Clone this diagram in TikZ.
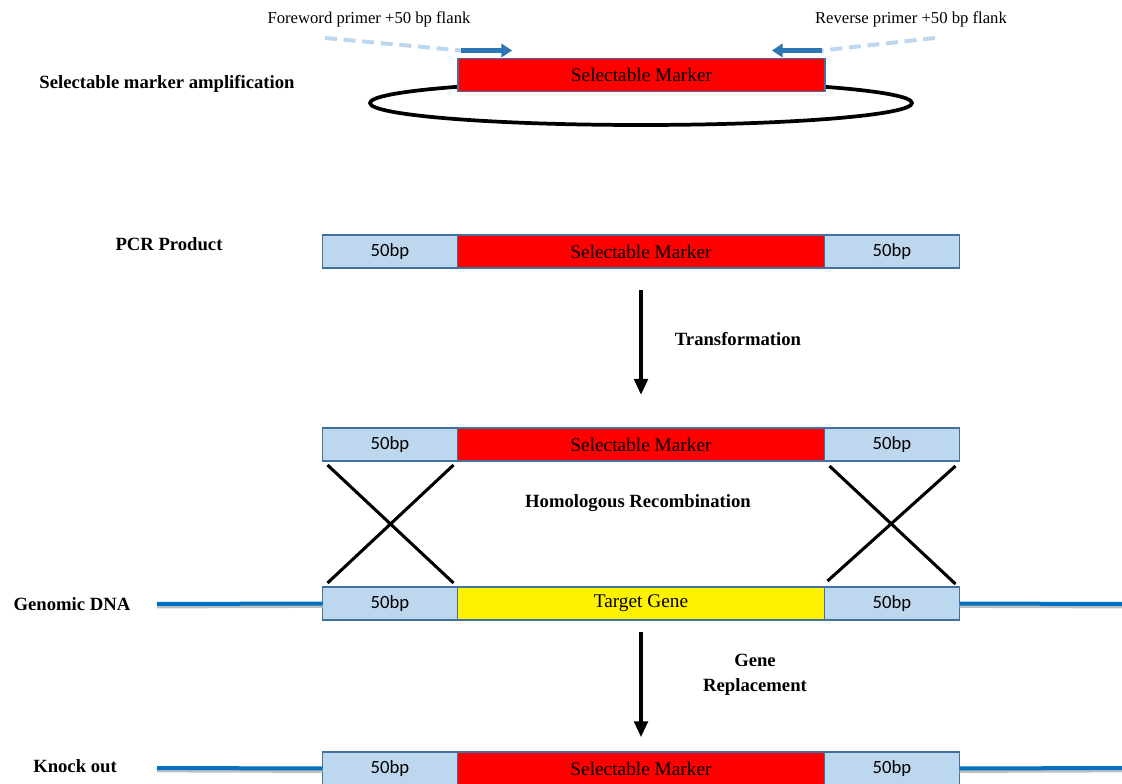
\documentclass[tikz,border=0pt]{standalone}
\usepackage{fontspec}
\setmainfont{Liberation Serif}
\newfontfamily\calibri{Carlito}
\usetikzlibrary{arrows.meta,positioning,calc,shapes}

\definecolor{flankblue}{HTML}{BDD7EE}
\definecolor{edgeblue}{HTML}{41719C}
\definecolor{dnablue}{HTML}{0070C0}
\definecolor{primerblue}{HTML}{2E75B6}
\definecolor{tailblue}{HTML}{BDD7EE}

\tikzset{
  seg/.style={draw=edgeblue, line width=0.8pt, minimum height=24.75pt, inner sep=0pt, outer sep=0pt},
  flank/.style={seg, fill=flankblue, minimum width=101.25pt, font=\calibri\fontsize{14}{16}\selectfont},
  marker/.style={seg, fill=red, minimum width=275.25pt, font=\fontsize{14.5}{16}\selectfont},
  target/.style={marker, fill=yellow},
  rowlabel/.style={font=\bfseries\fontsize{14}{16}\selectfont},
  primerlabel/.style={font=\fontsize{12.5}{14}\selectfont},
  dna/.style={dnablue, line width=3pt},
  dnashadow/.style={black!25, line width=3pt},
  flow/.style={-{Triangle[length=12pt,width=10pt]}, line width=3pt},
  cross/.style={line width=2.3pt},
  primer/.style={-{Triangle[length=8pt,width=10pt]}, primerblue, line width=3.4pt},
  tail/.style={tailblue, line width=3pt, dash pattern=on 9pt off 5pt},
}

\begin{document}
\begin{tikzpicture}[x=0.75pt, y=-0.75pt]
    \useasboundingbox (0,0) rectangle (1122,784);

    % plasmid with marker
    \draw[line width=2.8pt] (641,103) ellipse [x radius=271, y radius=22];
    \node[marker] (amp) at (641.5,75) {Selectable Marker};
    \node[rowlabel] (lamp) at (167,84) {Selectable marker amplification};

    % primers
    \coordinate (fs) at ($(amp.north west)+(3,-8)$);
    \coordinate (fe) at ($(amp.north west)+(54,-8)$);
    \coordinate (ft) at (325,38);
    \coordinate (rs) at ($(amp.north east)+(-3,-8)$);
    \coordinate (re) at ($(amp.north east)+(-53,-8)$);
    \coordinate (rt) at (935,38);
    \draw[tail] (ft) -- (fs);
    \draw[tail] (rt) -- (rs);
    \draw[primer] (fs) -- (fe);
    \draw[primer] (rs) -- (re);
    \node[primerlabel] (lfwd) at (369,19) {Foreword primer +50 bp flank};
    \node[primerlabel] (lrev) at (911,19) {Reverse primer +50 bp flank};

    % PCR product
    \node[flank] (pl) at (390,251.5) {50bp};
    \node[marker, right=0pt of pl] (pm) {Selectable Marker};
    \node[flank, right=0pt of pm] (pr) {50bp};
    \node[rowlabel] (lpcr) at (169,244) {PCR Product};

    % transformed fragment
    \node[flank] (hl) at (390,444.5) {50bp};
    \node[marker, right=0pt of hl] (hm) {Selectable Marker};
    \node[flank, right=0pt of hm] (hr) {50bp};

    \draw[flow] ([yshift=-16.5pt]pm.south) -- ([yshift=24.75pt]hm.north);
    \node[rowlabel] (ltrans) at (738,339) {Transformation};

    % genomic DNA
    \node[flank] (gl) at (390,603.5) {50bp};
    \node[target, right=0pt of gl] (gm) {Target Gene};
    \node[flank, right=0pt of gm] (gr) {50bp};
    \node[rowlabel] (lgen) at (72,604) {Genomic DNA};
    \coordinate (gw) at (157,604);
    \coordinate (ge) at (1122,604);
    \draw[dnashadow] ([yshift=-1.8pt]gw) -- ([yshift=-1.8pt]gl.west);
    \draw[dnashadow] ([yshift=-1.8pt]gr.east) -- ([yshift=-1.8pt]ge);
    \draw[dna] (gw) -- (gl.west);
    \draw[dna] (gr.east) -- (ge);

    % recombination crosses
    \draw[cross] ($(hl.south west)+(5,4)$) -- ($(gl.north east)+(-4,-4)$);
    \draw[cross] ($(hl.south east)+(-4,4)$) -- ($(gl.north west)+(5,-4)$);
    \draw[cross] ($(hr.south west)+(5,5)$) -- ($(gr.north east)+(-4,-3)$);
    \draw[cross] ($(hr.south east)+(-4,5)$) -- ($(gr.north west)+(3,-6)$);
    \node[rowlabel] (lhom) at (638,503) {Homologous Recombination};

    % knock out
    \node[flank] (kl) at (390,768.5) {50bp};
    \node[marker, right=0pt of kl] (km) {Selectable Marker};
    \node[flank, right=0pt of km] (kr) {50bp};
    \node[rowlabel] (lko) at (75,766) {Knock out};
    \coordinate (kw) at (157,768);
    \coordinate (ke) at (1122,768);
    \draw[dnashadow] ([yshift=-1.8pt]kw) -- ([yshift=-1.8pt]kl.west);
    \draw[dnashadow] ([yshift=-1.8pt]kr.east) -- ([yshift=-1.8pt]ke);
    \draw[dna] (kw) -- (kl.west);
    \draw[dna] (kr.east) -- (ke);

    \draw[flow] ([yshift=-9pt]gm.south) -- ([yshift=11pt]km.north);
    \node[rowlabel, align=center] (lrep) at (755,675) {Gene\\[3pt]Replacement};
\end{tikzpicture}
\end{document}
